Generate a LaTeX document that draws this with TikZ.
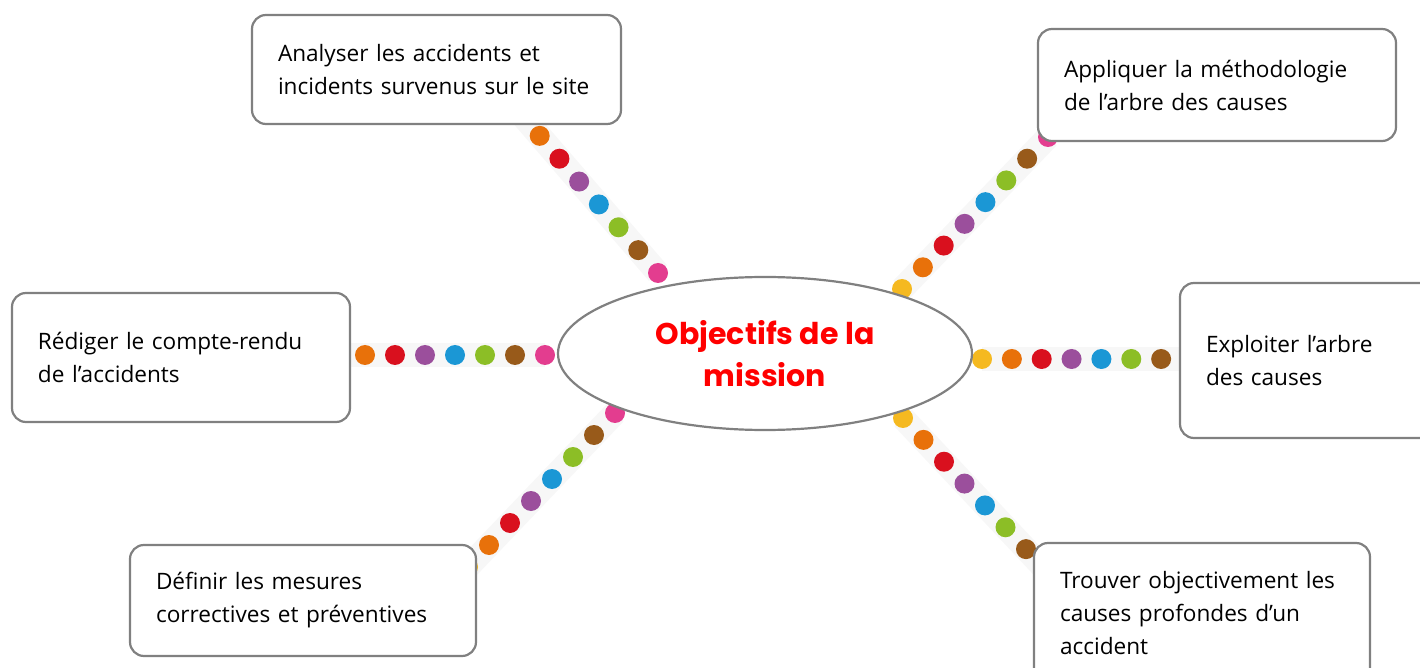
\documentclass[tikz,border=0pt]{standalone}
\usepackage{fontspec}
\setmainfont{Open Sans}
\newfontfamily\hubfont{Poppins}
\usetikzlibrary{calc, shapes.geometric}

\definecolor{boxgray}{HTML}{808080}
\definecolor{stripgray}{HTML}{F7F7F7}
\definecolor{hubred}{HTML}{FF0000}
\definecolor{dotyellow}{HTML}{F5B920}
\definecolor{dotorange}{HTML}{E8710A}
\definecolor{dotred}{HTML}{D9101E}
\definecolor{dotpurple}{HTML}{9B4F9C}
\definecolor{dotblue}{HTML}{1B97D5}
\definecolor{dotgreen}{HTML}{8CBE26}
\definecolor{dotbrown}{HTML}{985A1A}
\definecolor{dotpink}{HTML}{E33D8F}

\newcommand\dotchain[2]{%
  \draw[strip] (#1) -- (#2);
  \foreach \c [count=\i from 0] in {dotyellow,dotorange,dotred,dotpurple,dotblue,dotgreen,dotbrown,dotpink}
    \fill[\c] ($(#1)!{\i/7}!(#2)$) circle (5pt);
}

\begin{document}
\begin{tikzpicture}[x=0.5pt, y=-0.5pt,
  goal/.style={draw=boxgray, line width=1.1pt, fill=white, rounded corners=7pt,
    align=left, inner xsep=13pt, inner ysep=0pt, anchor=center,
    font=\fontsize{11.3}{16.5}\selectfont},
  hub/.style={ellipse, draw=boxgray, line width=1.1pt, fill=white,
    minimum width=207pt, minimum height=76.5pt, align=center, text=hubred,
    font=\hubfont\bfseries\fontsize{15}{21}\selectfont},
  strip/.style={line width=12pt, draw=stripgray}]
\useasboundingbox (0,0) rectangle (1420,668);

% dotted links, yellow end first
\coordinate (ul-a) at (520,113);   \coordinate (ul-b) at (658,273);
\coordinate (ur-a) at (902,289);   \coordinate (ur-b) at (1048,137);
\coordinate (l-a)  at (335,355);   \coordinate (l-b)  at (545,355);
\coordinate (r-a)  at (982,359);   \coordinate (r-b)  at (1191,359);
\coordinate (lr-a) at (903,418);   \coordinate (lr-b) at (1046.5,571);
\coordinate (ll-a) at (468,567);   \coordinate (ll-b) at (615,413);
\dotchain{ul-a}{ul-b}
\dotchain{ur-a}{ur-b}
\dotchain{l-a}{l-b}
\dotchain{r-a}{r-b}
\dotchain{lr-a}{lr-b}
\dotchain{ll-a}{ll-b}

\node[hub] (mission) at (765,353.5) {Objectifs de la\\mission};

\node[goal, text width=158.5pt, minimum height=54.5pt] (analyse) at (436.5,69.5)
  {Analyser les accidents et\\incidents survenus sur le site};
\node[goal, text width=153pt, minimum height=56pt] (methode) at (1217,85)
  {Appliquer la méthodologie\\de l’arbre des causes};
\node[goal, text width=143pt, minimum height=64.5pt] (rediger) at (181,357.5)
  {Rédiger le compte-rendu\\de l’accidents};
\node[goal, text width=109pt, minimum height=77.5pt] (exploiter) at (1315,360.5)
  {Exploiter l’arbre\\des causes};
\node[goal, text width=147pt, minimum height=55.5pt] (mesures) at (303,600.5)
  {Définir les mesures\\correctives et préventives};
\node[goal, text width=142pt, minimum height=70pt] (trouver) at (1202,613)
  {Trouver objectivement les\\causes profondes d’un\\accident};
\end{tikzpicture}
\end{document}
